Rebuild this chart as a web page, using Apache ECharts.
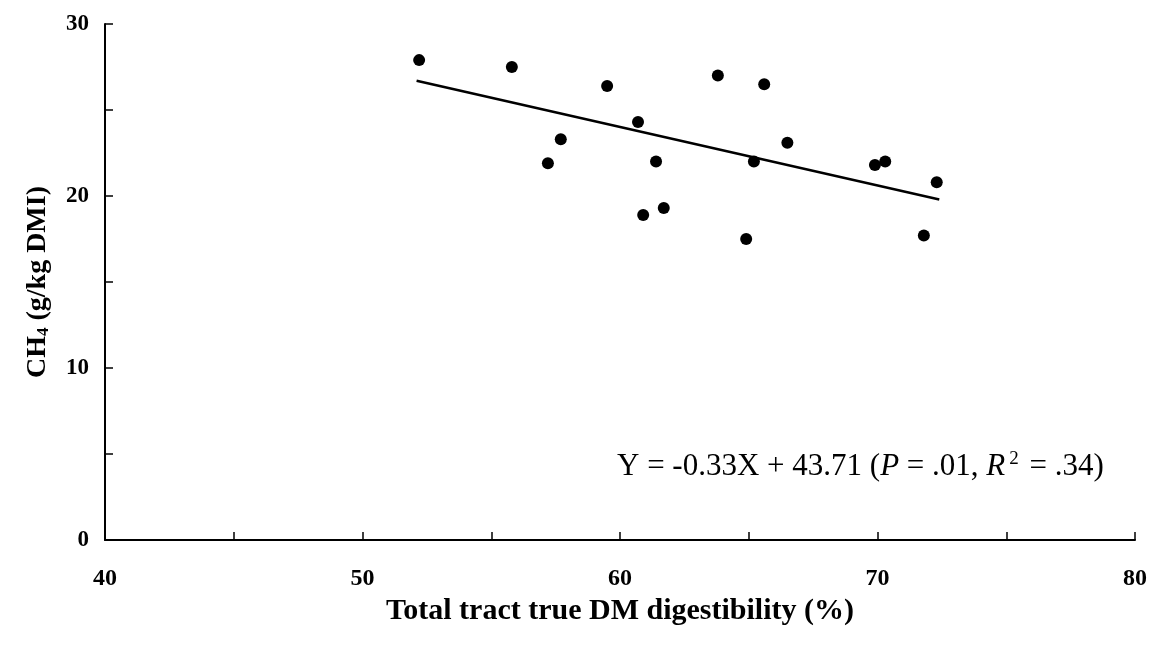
<!DOCTYPE html>
<html>
<head>
<meta charset="utf-8">
<script src="https://cdn.jsdelivr.net/npm/echarts@6/dist/echarts.min.js"></script>
<style>
  html, body { margin: 0; padding: 0; background: #fff; }
  #chart { width: 1158px; height: 648px; }
</style>
</head>
<body>
<div id="chart"></div>
<script>
// digestibility (%) and CH4 (g/kg DMI) of each animal
var digestibility = [52.2, 55.8, 59.5, 63.8, 65.6, 60.7, 57.7, 57.2, 61.4, 65.2, 60.9, 61.7, 64.9, 66.5, 69.9, 70.3, 72.3, 71.8];
var methane = [27.9, 27.5, 26.4, 27.0, 26.5, 24.3, 23.3, 21.9, 22.0, 22.0, 18.9, 19.3, 17.5, 23.1, 21.8, 22.0, 20.8, 17.7];

// regression line end points
var fitX = [52.1, 72.4];
var fitY = [26.7, 19.8];

var xTicks = [40, 50, 60, 70, 80];
var yTicks = [0, 10, 20, 30];

var points = digestibility.map(function (x, i) { return [x, methane[i]]; });
var fit = fitX.map(function (x, i) { return [x, fitY[i]]; });

var serif = "'Liberation Serif', 'DejaVu Serif', serif";

var chart = echarts.init(document.getElementById('chart'));
chart.setOption({
  animation: false,
  backgroundColor: '#fff',
  grid: { left: 105, right: 23, top: 24, bottom: 108 },
  xAxis: {
    type: 'value',
    min: 40,
    max: 80,
    interval: 5,
    name: 'Total tract true DM digestibility (%)',
    nameLocation: 'middle',
    nameGap: 55,
    nameTextStyle: { fontFamily: serif, fontWeight: 'bold', fontSize: 30, color: '#000' },
    axisLine: { lineStyle: { color: '#000', width: 2 } },
    axisTick: { inside: true, length: 8, lineStyle: { color: '#000', width: 1.5 } },
    axisLabel: {
      margin: 27,
      fontFamily: serif, fontWeight: 'bold', fontSize: 24, color: '#000',
      formatter: function (v) { return xTicks.indexOf(v) >= 0 ? String(v) : ''; }
    },
    splitLine: { show: false }
  },
  yAxis: {
    type: 'value',
    min: 0,
    max: 30,
    interval: 5,
    name: '{b|CH}{s|4}{b| (g/kg DMI)}',
    nameLocation: 'middle',
    nameGap: 53,
    nameTextStyle: {
      color: '#000',
      rich: {
        b: { fontFamily: serif, fontWeight: 'bold', fontSize: 28, color: '#000' },
        s: { fontFamily: serif, fontWeight: 'bold', fontSize: 17, color: '#000', verticalAlign: 'bottom', padding: [10, 0, 0, 0] }
      }
    },
    axisLine: { lineStyle: { color: '#000', width: 2 } },
    axisTick: { inside: true, length: 8, lineStyle: { color: '#000', width: 1.5 } },
    axisLabel: {
      margin: 16,
      fontFamily: serif, fontWeight: 'bold', fontSize: 23, color: '#000',
      formatter: function (v) { return yTicks.indexOf(v) >= 0 ? String(v) : ''; }
    },
    splitLine: { show: false }
  },
  graphic: [{
    type: 'text',
    left: 617,
    top: 450,
    style: {
      text: '{n|Y = -0.33X + 43.71 (}{i|P}{n| = .01, }{i|R}{sup|2}{n| = .34)}',
      rich: {
        n: { fontFamily: serif, fontSize: 31, fill: '#000' },
        i: { fontFamily: serif, fontSize: 31, fontStyle: 'italic', fill: '#000' },
        sup: { fontFamily: serif, fontSize: 19, fill: '#000', verticalAlign: 'top', padding: [0, 3, 14, 4] }
      }
    }
  }],
  series: [
    {
      type: 'scatter',
      data: points,
      symbol: 'circle',
      symbolSize: 12,
      itemStyle: { color: '#000', opacity: 1 }
    },
    {
      type: 'line',
      data: fit,
      symbol: 'none',
      lineStyle: { color: '#000', width: 2.5 }
    }
  ]
});
</script>
</body>
</html>
